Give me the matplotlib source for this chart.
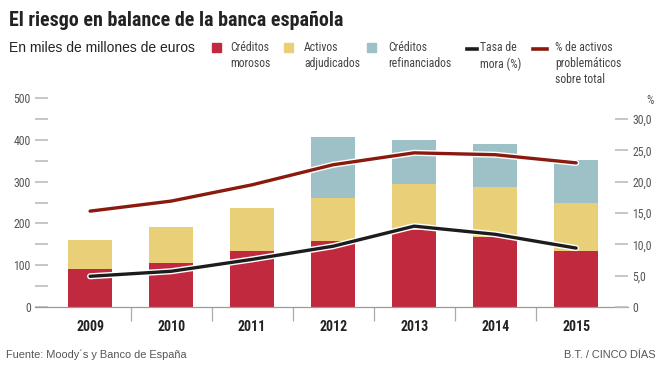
import matplotlib
matplotlib.use("Agg")
import matplotlib.pyplot as plt
import matplotlib.patheffects as pe
from matplotlib import font_manager as fm
import numpy as np


def wnum(w):
    if isinstance(w, (int, float)):
        return w
    return fm.weight_dict.get(str(w), 400)


# condensed faces, and which of them have a bold cut
fams = {}
for f in fm.fontManager.ttflist:
    if "Narrow" in f.name or "Condensed" in f.name:
        fams.setdefault(f.name, set()).add(wnum(f.weight))
pref = ["Liberation Sans Narrow", "Roboto Condensed", "Open Sans Condensed",
        "DejaVu Sans Condensed"]
order = [n for n in pref if n in fams] + sorted(n for n in fams if n not in pref)
reg_fam = next((n for n in order if min(fams[n]) <= 400), order[0] if order else "Liberation Sans")
bold_fam = next((n for n in order if max(fams[n]) >= 600), reg_fam)

NARROW = [reg_fam, "DejaVu Sans"]
NARROW_B = [bold_fam, "DejaVu Sans"]
PLAIN = ["Liberation Sans", "DejaVu Sans"]
plt.rcParams['font.family'] = NARROW

years = ["2009", "2010", "2011", "2012", "2013", "2014", "2015"]
morosos = [91, 105, 135, 159, 185, 167, 135]
adjudicados = [70, 86, 103, 102, 110, 119, 114]
refinanciados = [0, 0, 0, 145, 105, 104, 103]
tasa_mora = [4.9, 5.7, 7.6, 9.7, 12.9, 11.6, 9.4]
pct_problematicos = [15.3, 16.9, 19.5, 22.7, 24.6, 24.3, 23.0]

C_RED = "#c1293f"
C_YEL = "#e9cf78"
C_BLU = "#9dc1c7"
C_LINE_RED = "#8a1a0e"
C_LINE_BLK = "#1c1c1c"
GRAY = "#555555"
TICK = "#bdbdbd"

W, H = 664, 371
fig = plt.figure(figsize=(W / 100, H / 100), dpi=100)

# main axes in pixel coords
x0, x1, ytop, ybot = 35, 628, 98, 307
ax = fig.add_axes([x0 / W, 1 - ybot / H, (x1 - x0) / W, (ybot - ytop) / H])
x = np.arange(len(years))
bw = 0.54
ax.bar(x, morosos, bw, color=C_RED, zorder=2)
ax.bar(x, adjudicados, bw, bottom=morosos, color=C_YEL, zorder=2)
bottom2 = [a + b for a, b in zip(morosos, adjudicados)]
ax.bar(x, refinanciados, bw, bottom=bottom2, color=C_BLU, zorder=2)

ax.set_xlim(-0.68, 6.64)
ax.set_ylim(0, 500)
for s in ["top", "right", "left"]:
    ax.spines[s].set_visible(False)
ax.spines["bottom"].set_color("#999999")
ax.spines["bottom"].set_linewidth(0.9)

ax.set_yticks(np.arange(0, 501, 100))
ax.set_yticks(np.arange(50, 500, 100), minor=True)
ax.tick_params(axis="y", which="both", direction="in", length=9.5, width=1.2,
               color=TICK, labelsize=8.5, labelcolor=GRAY, pad=3)

# year separators as major ticks, labels as minor ticks
ax.set_xticks(x[:-1] + 0.5)
ax.set_xticklabels([])
ax.set_xticks(x, minor=True)
ax.set_xticklabels(years, minor=True, fontweight="bold", fontsize=10,
                   color="#222222", family=NARROW_B)
ax.tick_params(axis="x", which="major", direction="out", length=10, width=0.9, color="#aaaaaa")
ax.tick_params(axis="x", which="minor", length=0, pad=9.5)

ax2 = ax.twinx()
for s in ax2.spines.values():
    s.set_visible(False)
ax2.set_ylim(0, 30 * (ybot - ytop) / (307.3 - 119.3))
ax2.set_yticks(np.arange(0, 31, 5))
ax2.set_yticklabels(["0"] + ["%d,0" % v for v in range(5, 31, 5)])
ax2.tick_params(axis="y", direction="in", length=9.5, width=1.2, color=TICK,
                labelsize=8.5, labelcolor=GRAY, pad=3)
ax2.tick_params(axis="y", which="minor", length=0)

stroke = [pe.Stroke(linewidth=4.4, foreground="white"), pe.Normal()]
ax2.plot(x, pct_problematicos, color=C_LINE_RED, lw=2.4, solid_capstyle="round",
         path_effects=stroke, zorder=3)
ax2.plot(x, tasa_mora, color=C_LINE_BLK, lw=2.4, solid_capstyle="round",
         path_effects=stroke, zorder=3)

# overlay for texts and legend, pixel coords
ov = fig.add_axes([0, 0, 1, 1], zorder=-1)
ov.set_xlim(0, W)
ov.set_ylim(H, 0)
ov.axis("off")

ov.text(9, 20, "El riesgo en balance de la banca española", fontsize=14.4,
        fontweight="bold", color="#222222", va="center", ha="left", family=NARROW_B)
ov.text(9, 48, "En miles de millones de euros", fontsize=10, color="#222222",
        va="center", ha="left", family=PLAIN)
ov.text(654, 100, "%", fontsize=8.5, color=GRAY, va="center", ha="right")

leg = [
    (212, "patch", C_RED, "Créditos\nmorosos", 230),
    (284, "patch", C_YEL, "Activos\nadjudicados", 304),
    (367, "patch", C_BLU, "Créditos\nrefinanciados", 388),
    (467, "line", C_LINE_BLK, "Tasa de\nmora (%)", 480),
    (533, "line", C_LINE_RED, "% de activos\nproblemáticos\nsobre total", 555),
]
for mx, kind, col, label, tx in leg:
    if kind == "patch":
        ov.add_patch(plt.Rectangle((mx, 43), 9, 9, color=col))
    else:
        ov.plot([mx, mx + (10 if col == C_LINE_BLK else 14)], [49, 49], color=col, lw=2.6)
    ov.text(tx, 41, label, fontsize=8.5, color="#444444", va="top", ha="left",
            linespacing=1.3)

ov.text(6, 355, "Fuente: Moody´s y Banco de España", fontsize=7.9, color=GRAY,
        va="center", ha="left", family=PLAIN)
ov.text(656, 355, "B.T. / CINCO DÍAS", fontsize=7.9, color=GRAY, va="center",
        ha="right", family=PLAIN)

fig.savefig("out.png", dpi=100, facecolor="white")
